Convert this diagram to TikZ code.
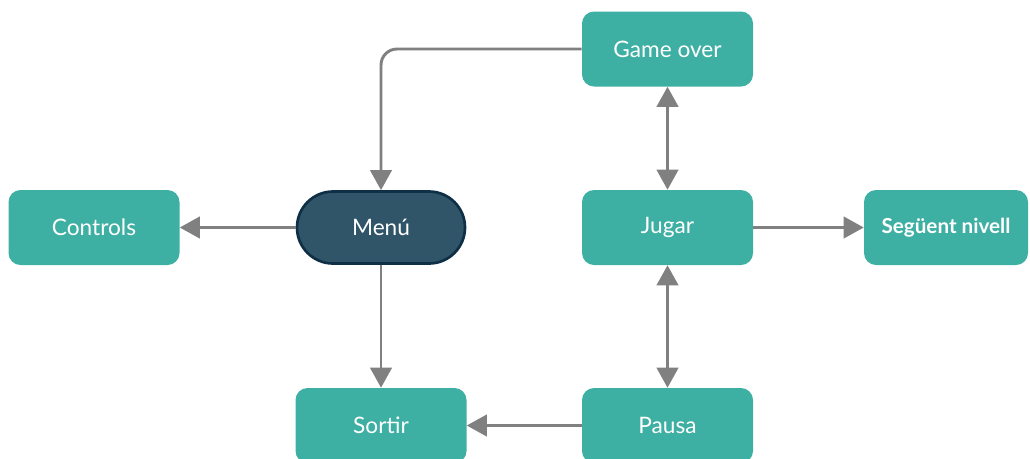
\documentclass[tikz,border=0pt]{standalone}
\usepackage{fontspec}
\setmainfont{Lato}
\usetikzlibrary{arrows.meta, positioning}
\definecolor{boxteal}{HTML}{3EAFA3}
\definecolor{menufill}{HTML}{305468}
\definecolor{menudraw}{HTML}{0E2F45}
\definecolor{linkgray}{HTML}{808080}
\tikzset{
    stage/.style={rectangle, fill=boxteal, text=white, minimum width=128.25pt, minimum height=56.25pt, rounded corners=9pt, font=\fontsize{17}{20}\selectfont},
    start/.style={rectangle, fill=menufill, draw=menudraw, line width=2pt, text=white, minimum width=126pt, minimum height=54pt, rounded corners=27pt, font=\fontsize{17}{20}\selectfont},
    link/.style={-{Triangle[length=15pt, width=16pt]}, line width=2.2pt, color=linkgray},
    duallink/.style={{Triangle[length=15pt, width=16pt]}-{Triangle[length=15pt, width=16pt]}, line width=2.2pt, color=linkgray}
}
\begin{document}
\begin{tikzpicture}[x=0.75pt, y=-0.75pt]
    \useasboundingbox (0,0) rectangle (1030,458);
    \node [stage] (gameover) at (667.5,49) {Game over};
    \node [stage] (controls) at (94,227.5) {Controls};
    \node [start] (menu) at (381,227.5) {Menú};
    \node [stage] (jugar) at (667.5,227.5) {Jugar};
    \node [stage, minimum width=123pt, font=\fontsize{15.5}{18}\selectfont\bfseries] (seguent) at (946,227.5) {Següent nivell};
    \node [stage] (sortir) at (381,425.5) {Sortir};
    \node [stage] (pausa) at (667.5,425.5) {Pausa};

    \draw [link, rounded corners=12pt] (gameover.west) -| (menu.north);
    \draw [duallink] (gameover) -- (jugar);
    \draw [link] (menu) -- (controls);
    \draw [link] (menu) -- (sortir);
    \draw [link] (jugar) -- (seguent);
    \draw [duallink] (jugar) -- (pausa);
    \draw [link] (pausa) -- (sortir);
\end{tikzpicture}
\end{document}
